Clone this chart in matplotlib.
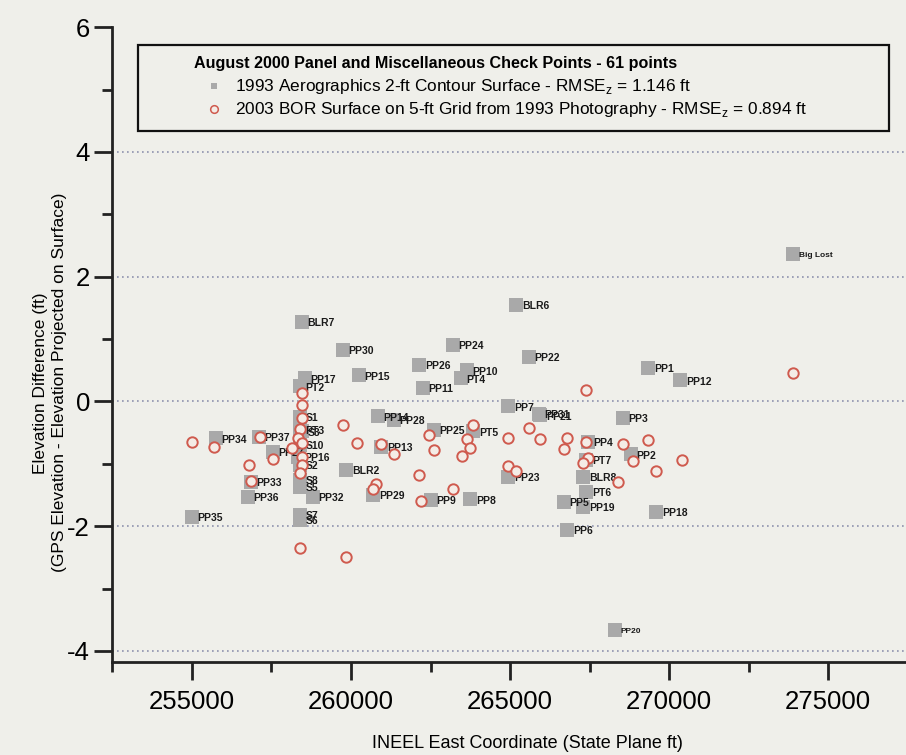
"""
Elevation check points vs. INEEL east coordinate
"""
import matplotlib
matplotlib.use('Agg')
import matplotlib.pyplot as plt
from matplotlib.ticker import MultipleLocator
from matplotlib.patches import Rectangle

plt.rcParams['font.family'] = ['Liberation Sans', 'DejaVu Sans']
plt.rcParams['mathtext.fontset'] = 'custom'
plt.rcParams['mathtext.rm'] = 'Liberation Sans'
plt.rcParams['axes.unicode_minus'] = False

# 1993 Aerographics surface (gray squares, labelled)
sq_labels = ['Big Lost', 'BLR6', 'BLR7', 'PP30', 'PP24', 'PP26', 'PP10', 'PT4', 'PP11',
             'PP22', 'PP15', 'PP17', 'PT2', 'PP1', 'PP12', 'PP7', 'PP21', 'PP31', 'PP3',
             'PP14', 'PP28', 'PP25', 'PT5', 'PP13', 'PP34', 'PP37', 'PP27', 'S1', 'PT3',
             'S3', 'S10', 'PP16', 'S2', 'S8', 'S5', 'S7', 'S6', 'PP33', 'PP36', 'PP32',
             'PP35', 'BLR2', 'PP29', 'PP9', 'PP8', 'PP23', 'PP5', 'PP19', 'PT6', 'BLR8',
             'PT7', 'PP4', 'PP2', 'PP18', 'PP6', 'PP20']
sq_x = [273900, 265200, 258450, 259750, 263200, 262150, 263650, 263450, 262250,
        265600, 260250, 258550, 258400, 269350, 270350, 264950, 265950, 265900, 268550,
        260850, 261350, 262600, 263850, 260950, 255750, 257100, 257550, 258400, 258400,
        258450, 258400, 258350, 258400, 258400, 258400, 258400, 258400, 256850, 256750, 258800,
        255000, 259850, 260700, 262500, 263750, 264950, 266700, 267300, 267400, 267300,
        267400, 267450, 268800, 269600, 266800, 268300]
sq_y = [2.36, 1.55, 1.28, 0.83, 0.91, 0.59, 0.50, 0.37, 0.22,
        0.72, 0.42, 0.37, 0.24, 0.54, 0.34, -0.08, -0.22, -0.20, -0.26,
        -0.24, -0.29, -0.46, -0.48, -0.73, -0.59, -0.57, -0.81, -0.25, -0.45,
        -0.48, -0.70, -0.89, -1.02, -1.26, -1.37, -1.82, -1.90, -1.29, -1.53, -1.53,
        -1.85, -1.10, -1.50, -1.58, -1.57, -1.21, -1.61, -1.69, -1.45, -1.21,
        -0.94, -0.65, -0.85, -1.77, -2.06, -3.67]
small_labels = ['Big Lost', 'PP20']

# 2003 BOR surface (red circles)
circ_x = [258450, 258450, 258450, 258400, 258350, 258450, 258150, 258450, 258450, 258400,
          258400, 255000, 255700, 257150, 257550, 256800, 256850,
          259750, 260200, 260950, 261350, 262150, 260800, 260700, 262200, 262450, 259850,
          262600, 263650, 263750, 263850, 263500, 263200,
          264950, 265600, 265950, 266800, 266700, 264950, 265200,
          267400, 267400, 267450, 267300, 268550, 269350, 268850, 268400, 269600, 270400,
          273900]
circ_y = [0.13, -0.06, -0.26, -0.45, -0.59, -0.67, -0.75, -0.89, -1.02, -1.15,
          -2.35, -0.65, -0.73, -0.57, -0.93, -1.02, -1.28,
          -0.38, -0.67, -0.69, -0.85, -1.18, -1.33, -1.41, -1.60, -0.54, -2.49,
          -0.78, -0.61, -0.75, -0.38, -0.88, -1.41,
          -0.58, -0.42, -0.61, -0.58, -0.77, -1.04, -1.12,
          0.18, -0.65, -0.91, -0.99, -0.69, -0.62, -0.96, -1.29, -1.12, -0.94,
          0.46]

legend_title = 'August 2000 Panel and Miscellaneous Check Points - 61 points'
legend_labels = ['1993 Aerographics 2-ft Contour Surface - RMSE$_\\mathregular{z}$ = 1.146 ft',
                 '2003 BOR Surface on 5-ft Grid from 1993 Photography - RMSE$_\\mathregular{z}$ = 0.894 ft']

SQ_COLOR = '#a9a9a9'
CIRC_EDGE = '#cf5a4e'
CIRC_FACE = '#f4ece6'
BG = '#efefea'

fig = plt.figure(figsize=(9.06, 7.55), dpi=100, facecolor=BG)
ax = fig.add_axes([0.124, 0.123, 0.878, 0.841])
ax.set_facecolor(BG)

ax.plot(sq_x, sq_y, 's', color=SQ_COLOR, markersize=10, markeredgewidth=0, zorder=2)
ax.plot(circ_x, circ_y, 'o', markerfacecolor=CIRC_FACE, markeredgecolor=CIRC_EDGE,
        markersize=7.5, markeredgewidth=1.4, zorder=4)

for lab, x, y in zip(sq_labels, sq_x, sq_y):
    fs = 6 if lab in small_labels else 7.5
    ax.annotate(lab, (x, y), xytext=(4, -1), textcoords='offset points',
                fontsize=fs, fontweight='bold', color='#1a1a1a', va='center', ha='left',
                zorder=3)

ax.set_xlim(252500, 277500)
ax.set_ylim(-4.18, 6)
ax.xaxis.set_major_locator(MultipleLocator(5000))
ax.xaxis.set_minor_locator(MultipleLocator(2500))
ax.yaxis.set_major_locator(MultipleLocator(2))
ax.yaxis.set_minor_locator(MultipleLocator(1))

for y in [-4, -2, 0, 2, 4]:
    ax.axhline(y, color='#8d92ad', linestyle=(0, (1, 2)), linewidth=1.2, zorder=1)

for s in ['top', 'right']:
    ax.spines[s].set_visible(False)
for s in ['left', 'bottom']:
    ax.spines[s].set_linewidth(2)
    ax.spines[s].set_color('#222222')

ax.tick_params(which='major', length=13, width=2, labelsize=18.5, color='#222222')
ax.tick_params(axis='y', which='major', pad=3)
ax.tick_params(axis='x', which='major', pad=7)
ax.tick_params(which='minor', length=7, width=2, color='#222222')

ax.set_xlabel('INEEL East Coordinate (State Plane ft)', fontsize=13)
ax.xaxis.set_label_coords(0.522, -0.115)
ax.set_ylabel('Elevation Difference (ft)\n(GPS Elevation - Elevation Projected on Surface)',
              fontsize=12.5, linespacing=1.3)
ax.yaxis.set_label_coords(-0.057, 0.44)

# legend box drawn by hand (px positions converted to axes fraction)
def ax_xy(px, py):
    return (px - 112) / 795, 1 - (py - 27) / 635

x0, y0 = ax_xy(138, 131)
x1, y1 = ax_xy(888, 45)
ax.add_patch(Rectangle((x0, y0), x1 - x0, y1 - y0, transform=ax.transAxes,
                       facecolor=BG, edgecolor='#111111', linewidth=1.6,
                       clip_on=False, zorder=5))
tx, ty = ax_xy(194, 63)
ax.text(tx, ty, legend_title, transform=ax.transAxes, fontsize=11.6, fontweight='bold',
        va='center', ha='left', zorder=6)
mx, my1 = ax_xy(214, 86)
_, my2 = ax_xy(214, 109)
lx, _ = ax_xy(235, 0)
ax.plot([mx], [my1], 's', color=SQ_COLOR, markersize=5, markeredgewidth=0,
        transform=ax.transAxes, clip_on=False, zorder=6)
ax.plot([mx], [my2], 'o', markerfacecolor=CIRC_FACE, markeredgecolor=CIRC_EDGE,
        markersize=5.5, markeredgewidth=1.1, transform=ax.transAxes, clip_on=False, zorder=6)
ax.text(lx, my1, legend_labels[0], transform=ax.transAxes, fontsize=12.4,
        va='center', ha='left', zorder=6)
ax.text(lx, my2, legend_labels[1], transform=ax.transAxes, fontsize=12.4,
        va='center', ha='left', zorder=6)

plt.savefig('out.png', dpi=100, facecolor=fig.get_facecolor())
